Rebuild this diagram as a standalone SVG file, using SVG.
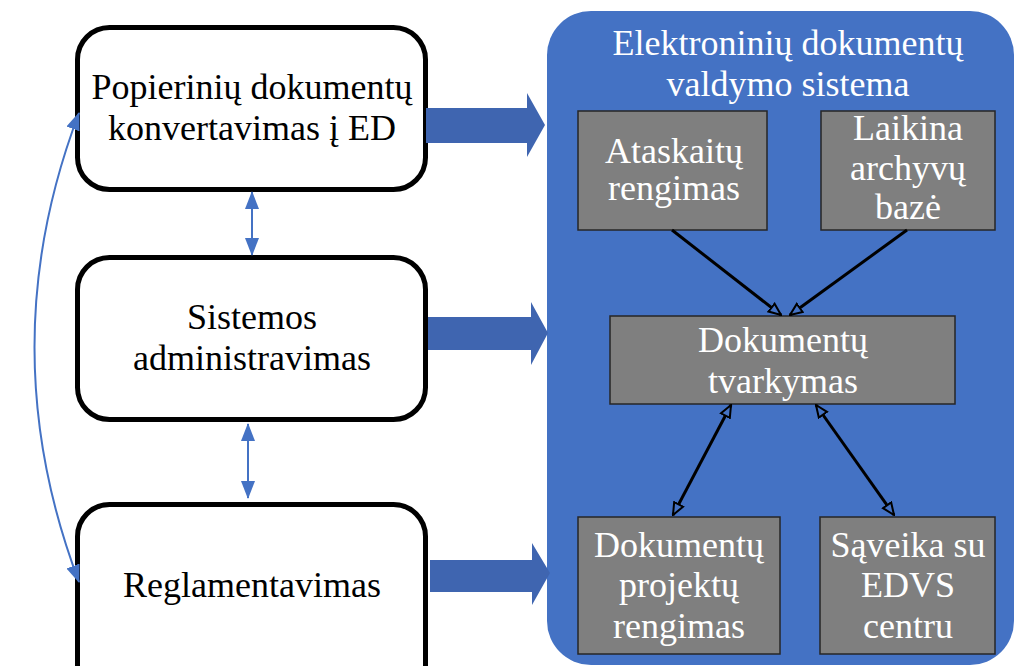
<svg xmlns="http://www.w3.org/2000/svg" width="1015" height="666" viewBox="0 0 1015 666">
  <defs>
    <style>
      .side { fill: #ffffff; stroke: #000000; stroke-width: 5; }
      .sub { fill: #7f7f7f; stroke: #262626; stroke-width: 1.5; }
      .lbl { font-family: "Liberation Serif", "Times New Roman", serif; font-size: 36px; text-anchor: middle; }
      .dark { fill: #000000; }
      .light { fill: #ffffff; }
      .block { fill: #3f65b0; }
      .link { fill: none; stroke: #000000; stroke-width: 3; }
      .thin { fill: none; stroke: #4472c4; stroke-width: 2; }
    </style>
    <marker id="hollow" viewBox="0 0 14 13" refX="13" refY="6.5" markerWidth="14" markerHeight="13" markerUnits="userSpaceOnUse" orient="auto-start-reverse">
      <path d="M1,1.5 L13,6.5 L1,11.5 Z" fill="#4472c4" stroke="#000000" stroke-width="2"/>
    </marker>
    <marker id="solid" viewBox="0 0 18 16" refX="17" refY="8" markerWidth="18" markerHeight="16" markerUnits="userSpaceOnUse" orient="auto-start-reverse">
      <path d="M0,1 L18,8 L0,15 Z" fill="#4472c4"/>
    </marker>
  </defs>

  <!-- system container -->
  <g id="edvs">
    <rect x="547" y="11" width="467" height="654" rx="44" fill="#4472c4"/>
    <text class="lbl light" x="788" y="55">Elektroninių dokumentų</text>
    <text class="lbl light" x="788" y="96">valdymo sistema</text>
  </g>

  <!-- left-hand activities -->
  <g id="konvertavimas">
    <rect class="side" x="77.5" y="27.5" width="348" height="162" rx="32"/>
    <text class="lbl dark" x="252" y="99">Popierinių dokumentų</text>
    <text class="lbl dark" x="252" y="140">konvertavimas į ED</text>
  </g>
  <g id="administravimas">
    <rect class="side" x="77.5" y="257.5" width="348" height="162" rx="32"/>
    <text class="lbl dark" x="252" y="329">Sistemos</text>
    <text class="lbl dark" x="252" y="370">administravimas</text>
  </g>
  <g id="reglamentavimas">
    <rect class="side" x="77.5" y="504.5" width="348" height="200" rx="32"/>
    <text class="lbl dark" x="252" y="597">Reglamentavimas</text>
  </g>

  <!-- inner modules -->
  <g id="ataskaitos">
    <rect class="sub" x="578" y="111" width="189" height="119"/>
    <text class="lbl light" x="674" y="163">Ataskaitų</text>
    <text class="lbl light" x="674" y="200">rengimas</text>
  </g>
  <g id="archyvas">
    <rect class="sub" x="821" y="111" width="174" height="119"/>
    <text class="lbl light" x="908" y="140">Laikina</text>
    <text class="lbl light" x="908" y="180">archyvų</text>
    <text class="lbl light" x="908" y="219">bazė</text>
  </g>
  <g id="tvarkymas">
    <rect class="sub" x="610" y="316" width="345" height="88"/>
    <text class="lbl light" x="783" y="352">Dokumentų</text>
    <text class="lbl light" x="783" y="393">tvarkymas</text>
  </g>
  <g id="projektai">
    <rect class="sub" x="578" y="517" width="202" height="137"/>
    <text class="lbl light" x="679" y="557">Dokumentų</text>
    <text class="lbl light" x="679" y="597">projektų</text>
    <text class="lbl light" x="679" y="638">rengimas</text>
  </g>
  <g id="saveika">
    <rect class="sub" x="820" y="517" width="175" height="137"/>
    <text class="lbl light" x="908" y="557">Sąveika su</text>
    <text class="lbl light" x="908" y="597">EDVS</text>
    <text class="lbl light" x="908" y="638">centru</text>
  </g>

  <!-- connectors -->
  <g id="connectors">
    <!-- block arrows into the system -->
    <path class="block" d="M426,108 L527,108 L527,93 L545,125 L527,157 L527,143 L426,143 Z"/>
    <path class="block" d="M428,317 L531,317 L531,302 L548,333 L531,365 L531,350 L428,350 Z"/>
    <path class="block" d="M430,560 L532,560 L532,543 L550,573 L532,605 L532,592 L430,592 Z"/>

    <!-- links between the left-hand activities -->
    <line class="thin" x1="252" y1="192" x2="252" y2="255" marker-start="url(#solid)" marker-end="url(#solid)"/>
    <line class="thin" x1="248" y1="424" x2="248" y2="498" marker-start="url(#solid)" marker-end="url(#solid)"/>
    <path class="thin" d="M79,113 Q-10,347 79,582" marker-start="url(#solid)" marker-end="url(#solid)"/>

    <!-- links between the modules -->
    <path class="link" d="M672,230 L781,315" marker-end="url(#hollow)"/>
    <path class="link" d="M907,230 L790,315" marker-end="url(#hollow)"/>
    <path class="link" d="M731,405 L673,515" marker-start="url(#hollow)" marker-end="url(#hollow)"/>
    <path class="link" d="M816,405 L894,515" marker-start="url(#hollow)" marker-end="url(#hollow)"/>
  </g>
</svg>
